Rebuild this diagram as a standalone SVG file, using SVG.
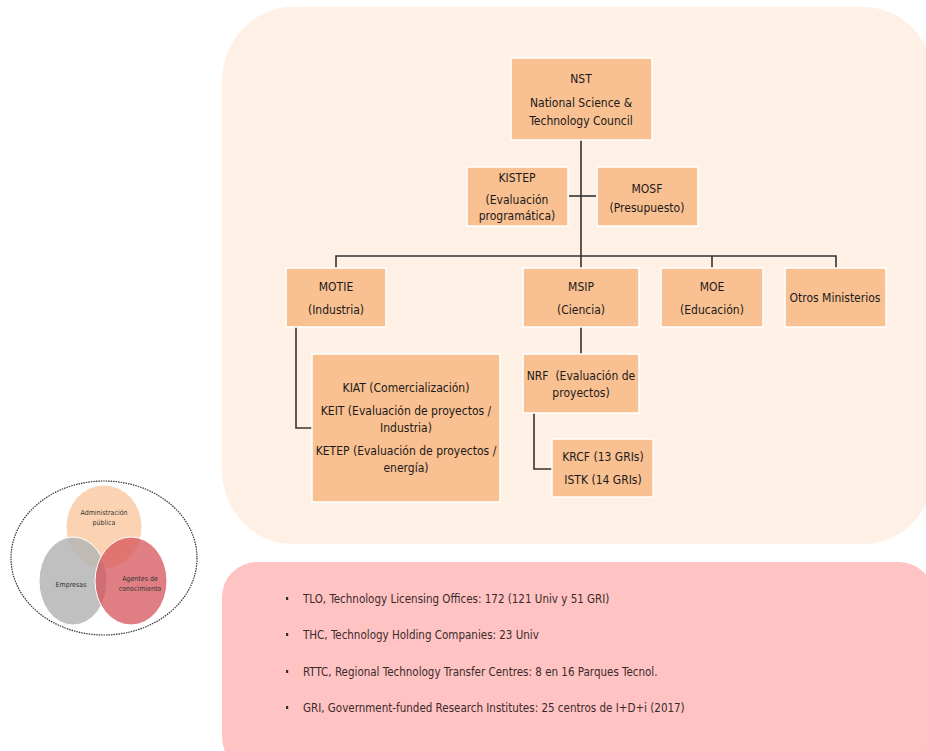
<svg xmlns="http://www.w3.org/2000/svg" width="926" height="751" viewBox="0 0 926 751">
<style>
text{font-family:"DejaVu Sans Condensed","Liberation Sans",sans-serif;fill:#1a1a1a;text-anchor:middle;font-size:12px}
.box{fill:#f9c091;stroke:#ffffff;stroke-width:1.5}
.ln{fill:none;stroke:#333333;stroke-width:1.6}
.bl{text-anchor:start;font-size:11.5px;fill:#3a2a2a}
.vn{font-size:7px;fill:#333}
</style>
<rect width="926" height="751" fill="#ffffff"/>
<rect id="panel-top" x="222" y="7" width="712" height="537" rx="70" ry="75" fill="#fef0e5"/>
<rect id="panel-bottom" x="222" y="562" width="712" height="210" rx="35" ry="35" fill="#ffc3c3"/>

<g id="connectors">
<path class="ln" d="M581 140V256"/>
<path class="ln" d="M569 196H596"/>
<path class="ln" d="M336 268V256H836V268"/>
<path class="ln" d="M581 256V268"/>
<path class="ln" d="M712 256V268"/>
<path class="ln" d="M296 327V428H312"/>
<path class="ln" d="M581 327V354"/>
<path class="ln" d="M534 413V469H552"/>
</g>

<g id="nst"><rect class="box" x="511" y="58" width="141" height="82"/>
<text x="581" y="83">NST</text><text x="581" y="107">National Science &amp;</text><text x="581" y="125">Technology Council</text></g>
<g id="kistep"><rect class="box" x="467" y="167" width="101" height="59"/>
<text x="517" y="182">KISTEP</text><text x="517" y="204">(Evaluación</text><text x="517" y="220">programática)</text></g>
<g id="mosf"><rect class="box" x="597" y="167" width="101" height="59"/>
<text x="647" y="193">MOSF</text><text x="647" y="212">(Presupuesto)</text></g>
<g id="motie"><rect class="box" x="286" y="268" width="100" height="59"/>
<text x="336" y="291">MOTIE</text><text x="336" y="314">(Industria)</text></g>
<g id="msip"><rect class="box" x="523" y="268" width="116" height="59"/>
<text x="581" y="291">MSIP</text><text x="581" y="314">(Ciencia)</text></g>
<g id="moe"><rect class="box" x="661" y="268" width="102" height="59"/>
<text x="712" y="291">MOE</text><text x="712" y="314">(Educación)</text></g>
<g id="otros"><rect class="box" x="785" y="268" width="101" height="59"/>
<text x="835" y="302">Otros Ministerios</text></g>
<g id="kiat"><rect class="box" x="312" y="354" width="188" height="148"/>
<text x="406" y="392">KIAT (Comercialización)</text>
<text x="406" y="415">KEIT (Evaluación de proyectos /</text>
<text x="406" y="432">Industria)</text>
<text x="406" y="455">KETEP (Evaluación de proyectos /</text>
<text x="406" y="472">energía)</text></g>
<g id="nrf"><rect class="box" x="523" y="354" width="116" height="59"/>
<text x="581" y="380" xml:space="preserve">NRF  (Evaluación de</text><text x="581" y="397">proyectos)</text></g>
<g id="krcf"><rect class="box" x="552" y="439" width="101" height="58"/>
<text x="603" y="461">KRCF (13 GRIs)</text><text x="603" y="484">ISTK (14 GRIs)</text></g>

<g id="list">
<rect x="286" y="597" width="2.2" height="3" fill="#3a2a2a"/>
<rect x="286" y="633" width="2.2" height="3" fill="#3a2a2a"/>
<rect x="286" y="670" width="2.2" height="3" fill="#3a2a2a"/>
<rect x="286" y="706" width="2.2" height="3" fill="#3a2a2a"/>
<text class="bl" x="303" y="603">TLO, Technology Licensing Offices: 172 (121 Univ y 51 GRI)</text>
<text class="bl" x="303" y="639">THC, Technology Holding Companies: 23 Univ</text>
<text class="bl" x="303" y="676">RTTC, Regional Technology Transfer Centres: 8 en 16 Parques Tecnol.</text>
<text class="bl" x="303" y="712">GRI, Government-funded Research Institutes: 25 centros de I+D+i (2017)</text>
</g>

<g id="venn">
<ellipse cx="104" cy="558" rx="93" ry="77" fill="none" stroke="#333" stroke-width="1.2" stroke-dasharray="1.5 1"/>
<g id="admin"><ellipse cx="104" cy="527" rx="38" ry="42" fill="#fbd3b2" stroke="#fff" stroke-width="1"/></g>
<g id="empresas"><ellipse cx="73" cy="581" rx="34" ry="44" fill="#b5b5b5" fill-opacity="0.85" stroke="#fff" stroke-width="1"/></g>
<g id="agentes"><ellipse cx="131" cy="581" rx="36" ry="44" fill="#d6545a" fill-opacity="0.75" stroke="#fff" stroke-width="1"/></g>
<text class="vn" x="104" y="515">Administración</text>
<text class="vn" x="104" y="525">pública</text>
<text class="vn" x="71" y="587">Empresas</text>
<text class="vn" x="140" y="581">Agentes de</text>
<text class="vn" x="140" y="591">conocimiento</text>
</g>
</svg>
